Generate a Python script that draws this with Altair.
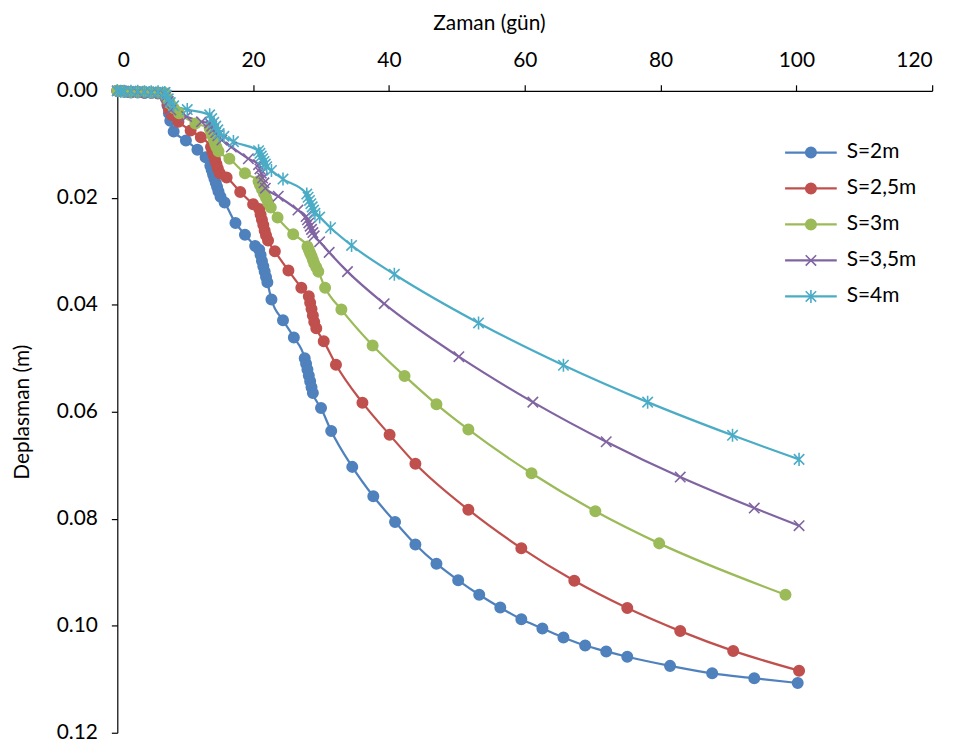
import altair as alt
import pandas as pd

names = ["S=2m", "S=2,5m", "S=3m", "S=3,5m", "S=4m"]
colors = ["#4F81BD", "#C0504D", "#9BBB59", "#8064A2", "#4BACC6"]

x_s2 = [0, 0.5, 1, 1.5, 2, 3, 4, 5, 6, 7, 7.2, 7.4, 7.6, 7.8, 8.3, 10.1, 11.8, 13.0,
        13.7, 13.9, 14.1, 14.3, 14.5, 14.7, 14.9, 15.2, 15.8, 17.4, 18.8, 20.3,
        20.9, 21.1, 21.3, 21.5, 21.7, 21.9, 22.1, 22.7, 24.4, 26.0,
        27.6, 27.8, 28.0, 28.2, 28.4, 28.6, 28.8, 30.0, 31.5, 34.6, 37.7, 40.9,
        43.9, 47.0, 50.2, 53.3, 56.4, 59.5, 62.6, 65.7, 68.9, 72.0, 75.1, 81.4,
        87.6, 93.8, 100.2]
y_s2 = [0, 0.0001, 0.0002, 0.0002, 0.0003, 0.0003, 0.0004, 0.0004, 0.0005, 0.0006,
        0.0015, 0.0028, 0.0042, 0.0056, 0.0076, 0.0093, 0.0110, 0.0124,
        0.0140, 0.0148, 0.0156, 0.0164, 0.0172, 0.0180, 0.0188, 0.0198, 0.0209,
        0.0247, 0.0269, 0.0290, 0.0297, 0.0307, 0.0318, 0.0328, 0.0338, 0.0348,
        0.0358, 0.0390, 0.0429, 0.0461, 0.0500, 0.0510, 0.0521, 0.0532, 0.0543,
        0.0554, 0.0565, 0.0593, 0.0636, 0.0703, 0.0758, 0.0806, 0.0848, 0.0884,
        0.0915, 0.0942, 0.0966, 0.0988, 0.1005, 0.1022, 0.1037, 0.1048, 0.1058,
        0.1075, 0.1089, 0.1098, 0.1107]

x_s25 = [0, 0.5, 1, 2, 3, 4, 5, 6, 7, 7.2, 7.4, 7.6, 8.0, 9.0, 10.8, 12.3,
         13.8, 14.0, 14.2, 14.4, 14.6, 14.8, 15.1, 16.1, 18.1, 20.0,
         20.9, 21.1, 21.3, 21.5, 21.7, 21.9, 22.2, 23.2, 25.2, 27.1,
         28.2, 28.4, 28.6, 28.8, 29.0, 29.3, 30.4, 32.2, 36.1, 40.1, 43.9,
         51.7, 59.5, 67.3, 75.1, 82.9, 90.7, 100.4]
y_s25 = [0, 0.0001, 0.0001, 0.0002, 0.0002, 0.0003, 0.0003, 0.0004, 0.0005,
         0.0015, 0.0025, 0.0035, 0.0045, 0.0058, 0.0074, 0.0087,
         0.0105, 0.0113, 0.0121, 0.0129, 0.0137, 0.0145, 0.0154, 0.0162,
         0.0189, 0.0212, 0.0221, 0.0231, 0.0241, 0.0251, 0.0261, 0.0270,
         0.0280, 0.0300, 0.0336, 0.0368, 0.0384, 0.0396, 0.0408, 0.0420,
         0.0432, 0.0444, 0.0468, 0.0512, 0.0583, 0.0643, 0.0697, 0.0783,
         0.0855, 0.0916, 0.0967, 0.1010, 0.1047, 0.1084]

x_s3 = [0, 0.5, 1, 2, 3, 4, 5, 6, 7, 7.2, 7.5, 7.8, 8.3, 9.1, 11.5,
        13.6, 13.8, 14.0, 14.2, 14.4, 14.6, 14.9, 16.5, 18.8,
        20.8, 21.0, 21.3, 21.6, 21.9, 22.2, 22.6, 23.6, 25.9,
        28.0, 28.2, 28.4, 28.6, 28.8, 29.0, 29.3, 29.6, 30.6, 33.0, 37.6,
        42.3, 47.0, 51.7, 61.0, 70.4, 79.8, 98.4]
y_s3 = [0, 0.0001, 0.0001, 0.0002, 0.0002, 0.0002, 0.0003, 0.0003, 0.0004,
        0.0010, 0.0017, 0.0024, 0.0032, 0.0042, 0.0061,
        0.0070, 0.0077, 0.0084, 0.0091, 0.0098, 0.0105, 0.0113, 0.0127, 0.0154,
        0.0169, 0.0176, 0.0184, 0.0192, 0.0200, 0.0209, 0.0218, 0.0237, 0.0268,
        0.0291, 0.0297, 0.0303, 0.0309, 0.0316, 0.0323, 0.0330, 0.0338,
        0.0368, 0.0409, 0.0476, 0.0533, 0.0586, 0.0633, 0.0715, 0.0786,
        0.0846, 0.0942]

x_s35 = [0, 0.5, 1, 2, 3, 4, 5, 6, 7, 7.2, 7.5, 7.9, 10.2, 12.4,
         13.6, 13.9, 14.2, 14.5, 14.8, 15.4, 16.8, 19.3,
         20.8, 21.0, 21.2, 21.4, 21.6, 21.8, 23.7, 26.6,
         27.8, 28.0, 28.2, 28.4, 28.6, 28.8, 29.0, 29.8, 31.2, 33.9, 39.3,
         50.3, 61.2, 72.0, 82.9, 93.8, 100.4]
y_s35 = [0, 0.0001, 0.0001, 0.0001, 0.0002, 0.0002, 0.0003, 0.0003, 0.0003,
         0.0010, 0.0020, 0.0036, 0.0048, 0.0058,
         0.0060, 0.0066, 0.0072, 0.0078, 0.0084, 0.0092, 0.0105, 0.0127,
         0.0138, 0.0146, 0.0154, 0.0163, 0.0172, 0.0182, 0.0197, 0.0223,
         0.0235, 0.0241, 0.0247, 0.0253, 0.0259, 0.0265, 0.0271,
         0.0282, 0.0302, 0.0338, 0.0398, 0.0497, 0.0582, 0.0656, 0.0722,
         0.0780, 0.0813]

x_s4 = [0, 0.5, 1, 2, 3, 4, 5, 6, 7, 7.2, 7.5, 7.8, 8.3, 10.3,
        13.6, 13.9, 14.2, 14.5, 14.8, 15.0, 15.7, 17.1,
        20.8, 21.0, 21.2, 21.4, 21.6, 21.8, 22.0, 22.7, 24.4,
        27.9, 28.1, 28.3, 28.5, 28.7, 28.9, 29.1, 29.8, 31.4, 34.5, 40.8,
        53.2, 65.7, 78.1, 90.6, 100.4]
y_s4 = [0, 0.0001, 0.0001, 0.0001, 0.0001, 0.0002, 0.0002, 0.0002, 0.0003,
        0.0008, 0.0015, 0.0022, 0.0028, 0.0035,
        0.0045, 0.0052, 0.0059, 0.0066, 0.0073, 0.0080, 0.0085, 0.0095,
        0.0112, 0.0117, 0.0122, 0.0127, 0.0132, 0.0137, 0.0142, 0.0149, 0.0165,
        0.0193, 0.0199, 0.0205, 0.0211, 0.0217, 0.0223, 0.0229,
        0.0236, 0.0256, 0.0289, 0.0343, 0.0434, 0.0513, 0.0582, 0.0644, 0.0689]

x_ticks = [0, 20, 40, 60, 80, 100, 120]
y_ticks = [0.00, 0.02, 0.04, 0.06, 0.08, 0.10, 0.12]

series = [(names[0], x_s2, y_s2), (names[1], x_s25, y_s25), (names[2], x_s3, y_s3),
          (names[3], x_s35, y_s35), (names[4], x_s4, y_s4)]
rows = []
for name, xs, ys in series:
    for i, (xv, yv) in enumerate(zip(xs, ys)):
        rows.append({"series": name, "idx": i, "gun": xv, "dep": yv})
df = pd.DataFrame(rows)
leg = pd.DataFrame({"series": names})

FONT = "Lato"
FS = 21
shape_x = "M-1,-1L1,1M-1,1L1,-1"
shape_star = "M-1,-1L1,1M-1,1L1,-1M0,-1.25L0,1.25"
shapes = ["circle", "circle", "circle", shape_x, shape_star]

color_scale = alt.Scale(domain=names, range=colors)
shape_scale = alt.Scale(domain=names, range=shapes)

xenc = alt.X("gun:Q", scale=alt.Scale(domain=[0, 120], nice=False),
             axis=alt.Axis(orient="top", values=x_ticks, title="Zaman (gün)",
                           grid=False, tickSize=6, labelPadding=14,
                           titleX=374, titleY=-68, titleBaseline="middle",
                           titleAlign="center"))
yenc = alt.Y("dep:Q", scale=alt.Scale(domain=[0, 0.12], reverse=True, nice=False),
             axis=alt.Axis(values=y_ticks, format=".2f", title="Deplasman (m)",
                           grid=False, tickSize=6, labelPadding=14,
                           titleX=-95, titleY=323, titleBaseline="middle",
                           titleAlign="center", titleAngle=270))

base = alt.Chart(df)
lines = base.mark_line(strokeWidth=2.25, interpolate="monotone").encode(
    x=xenc, y=yenc,
    color=alt.Color("series:N", scale=color_scale, legend=None),
    detail="series:N",
    order=alt.Order("idx:Q"),
)
points = base.mark_point(filled=True, size=110, strokeWidth=1.6, opacity=1).encode(
    x="gun:Q", y="dep:Q",
    color=alt.Color("series:N", scale=color_scale, legend=None),
    stroke=alt.Stroke("series:N", scale=color_scale, legend=None),
    shape=alt.Shape("series:N", scale=shape_scale, legend=None),
)

leg_y = alt.Y("series:N", scale=alt.Scale(domain=names, range=[44, 225], padding=0), axis=None)
leg_base = alt.Chart(leg)
leg_rule = leg_base.mark_rule(strokeWidth=2.25).encode(
    x=alt.value(672), x2=alt.value(724), y=leg_y,
    color=alt.Color("series:N", scale=color_scale, legend=None),
)
leg_pt = leg_base.mark_point(filled=True, size=110, strokeWidth=1.6, opacity=1).encode(
    x=alt.value(698), y=leg_y,
    color=alt.Color("series:N", scale=color_scale, legend=None),
    stroke=alt.Stroke("series:N", scale=color_scale, legend=None),
    shape=alt.Shape("series:N", scale=shape_scale, legend=None),
)
leg_txt = leg_base.mark_text(align="left", baseline="middle", font=FONT, fontSize=FS,
                             color="black").encode(
    x=alt.value(734), y=leg_y, text="series:N",
)

main = alt.layer(lines, points)
legend_layer = alt.layer(leg_rule, leg_pt, leg_txt)

chart = alt.layer(main, legend_layer).resolve_scale(y="independent").properties(
    width=820, height=646,
    autosize=alt.AutoSizeParams(type="none"),
    padding={"left": 110, "top": 81, "right": 25, "bottom": 10},
).configure_view(stroke=None).configure_axis(
    labelFont=FONT, titleFont=FONT, labelFontSize=FS, titleFontSize=FS,
    titleFontWeight="normal", labelColor="black", titleColor="black",
    domainColor="black", tickColor="black", domainWidth=1.2, tickWidth=1.2,
)

chart.save("out.html", embed_options={"renderer": "svg", "actions": False})
